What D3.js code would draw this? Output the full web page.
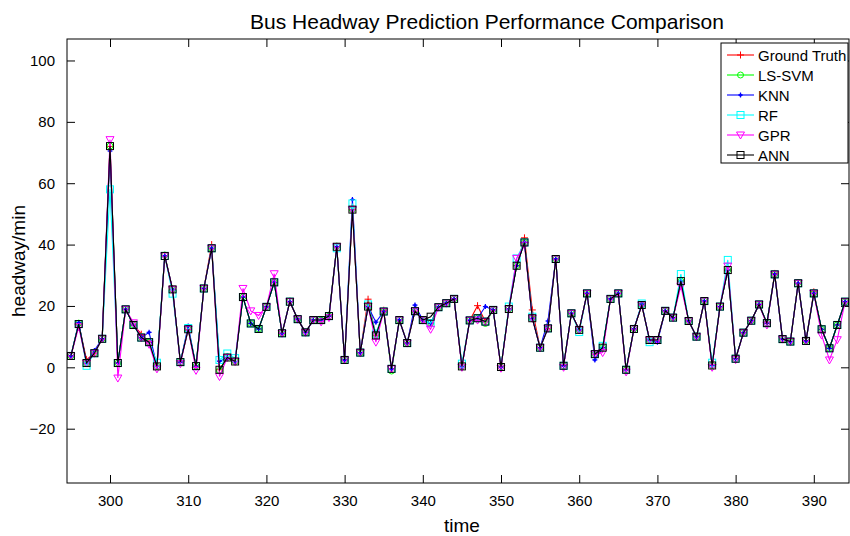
<!DOCTYPE html>
<html>
<head>
<meta charset="utf-8">
<script src="https://cdn.jsdelivr.net/npm/d3@7"></script>
<style>
  html, body { margin: 0; padding: 0; background: #fff; }
  svg { display: block; font-family: "Liberation Sans", Arial, sans-serif; }
</style>
</head>
<body>
<svg id="chart" width="850" height="536"></svg>
<script>
// Time steps (sample index) shown on the horizontal axis
const timeSteps = d3.range(295, 395);

// Observed headway (minutes)
const groundTruth = [
  3.7, 14.1, 2.5, 4.6, 9.3, 72.0, 1.4, 18.9, 13.8, 10.8,
  8.2, 0.3, 36.3, 25.4, 1.7, 12.4, 0.4, 25.7, 40.0, -0.8,
  3.2, 1.9, 22.9, 14.3, 12.5, 19.7, 27.7, 11.1, 21.4, 15.7,
  11.4, 15.4, 15.4, 16.7, 39.3, 2.4, 51.4, 4.8, 22.2, 10.4,
  18.6, -0.5, 15.4, 7.9, 18.3, 15.4, 14.4, 19.6, 20.9, 22.3,
  0.3, 15.3, 20.1, 14.9, 18.7, 0.1, 19.0, 33.1, 42.2, 18.7,
  6.4, 12.7, 35.3, 0.5, 17.6, 12.2, 24.1, 4.3, 6.4, 22.3,
  24.1, -0.8, 12.5, 20.3, 8.9, 8.9, 18.4, 16.2, 28.1, 15.1,
  10.0, 21.6, 0.6, 19.8, 31.7, 2.8, 11.3, 15.2, 20.5, 14.4,
  30.6, 9.2, 8.4, 27.4, 8.6, 24.6, 12.4, 6.2, 13.8, 21.4
];

// LS-SVM predictions
const lsSvm = [
  3.7, 14.4, 1.4, 4.6, 9.3, 72.1, 1.4, 18.9, 13.8, 9.9,
  8.2, 0.3, 36.6, 25.4, 1.7, 12.4, 0.4, 25.7, 38.8, -1.0,
  3.2, 1.9, 22.9, 14.3, 12.5, 19.7, 27.7, 11.1, 21.6, 15.7,
  11.4, 15.4, 15.4, 16.7, 39.5, 2.4, 51.4, 4.8, 19.8, 10.4,
  18.2, -1.2, 15.4, 7.9, 18.3, 15.4, 14.4, 19.6, 20.9, 22.3,
  0.3, 15.3, 16.0, 14.3, 18.7, 0.1, 19.0, 33.1, 40.7, 16.0,
  6.4, 12.7, 35.3, 0.5, 17.6, 12.2, 24.1, 4.3, 6.4, 22.3,
  24.1, -0.8, 12.5, 20.3, 8.9, 8.9, 18.4, 16.2, 28.1, 15.1,
  10.0, 21.6, 0.6, 19.8, 31.7, 2.8, 11.3, 15.2, 20.5, 14.4,
  30.3, 9.2, 8.4, 27.6, 8.6, 24.1, 12.4, 6.2, 13.8, 21.4
];

// KNN predictions
const knn = [
  3.7, 14.6, 1.4, 5.5, 9.3, 70.5, 1.4, 18.9, 13.8, 9.7,
  11.4, 0.3, 36.3, 25.4, 1.7, 13.5, 0.4, 25.7, 38.8, 2.0,
  3.2, 1.9, 22.9, 14.3, 12.5, 19.7, 27.7, 11.1, 21.4, 15.7,
  11.4, 15.4, 15.4, 16.7, 39.3, 2.4, 54.7, 4.8, 19.8, 14.7,
  18.2, -0.5, 15.4, 7.9, 20.3, 15.4, 14.4, 19.6, 20.9, 22.3,
  0.3, 15.3, 16.0, 19.8, 18.7, 0.1, 19.0, 33.1, 40.7, 16.0,
  6.4, 15.1, 35.3, 0.5, 17.6, 12.2, 24.1, 2.4, 6.4, 22.3,
  24.1, -0.8, 12.5, 20.6, 8.9, 8.2, 18.4, 16.2, 28.1, 15.1,
  10.0, 21.6, 0.6, 19.8, 31.7, 2.8, 11.3, 15.2, 20.5, 14.4,
  30.3, 9.2, 8.4, 27.4, 8.6, 24.1, 12.4, 6.2, 13.8, 21.4
];

// Random forest predictions
const randomForest = [
  3.7, 14.1, 0.5, 4.6, 9.3, 58.0, 1.4, 18.9, 13.8, 9.7,
  8.2, 1.5, 36.3, 24.0, 1.7, 12.8, 0.4, 25.7, 38.8, 2.4,
  4.5, 3.0, 22.9, 14.3, 12.5, 19.7, 27.7, 11.1, 21.4, 15.7,
  11.4, 15.4, 15.4, 16.7, 38.8, 2.4, 53.4, 4.8, 20.5, 11.0,
  18.2, -0.5, 15.4, 7.9, 18.3, 15.4, 14.4, 19.6, 20.9, 22.3,
  1.2, 15.3, 16.0, 14.9, 18.7, 0.1, 19.8, 35.5, 40.7, 16.5,
  6.4, 12.7, 35.3, 0.5, 17.6, 11.5, 24.1, 4.3, 7.0, 22.3,
  24.1, -0.8, 12.5, 20.8, 8.2, 8.9, 18.4, 16.2, 30.4, 15.1,
  10.0, 21.6, 1.5, 19.8, 35.0, 2.8, 11.3, 15.2, 20.5, 14.4,
  30.3, 9.2, 8.4, 27.4, 8.6, 24.1, 12.4, 6.2, 13.8, 21.4
];

// Gaussian process regression predictions
const gpr = [
  3.7, 13.2, 1.4, 4.6, 9.3, 74.2, -3.5, 18.9, 14.5, 9.7,
  7.5, -0.5, 36.3, 25.4, 1.2, 12.4, -1.0, 25.7, 38.8, -3.0,
  3.2, 1.9, 25.7, 18.4, 16.9, 19.7, 30.5, 11.1, 21.4, 15.7,
  11.4, 15.4, 14.8, 16.2, 39.3, 2.4, 51.4, 4.8, 19.8, 8.2,
  18.2, -0.5, 15.4, 7.9, 18.3, 15.4, 12.4, 19.6, 20.9, 22.3,
  0.0, 15.3, 15.4, 14.9, 18.7, -0.3, 19.0, 35.5, 39.8, 16.0,
  6.4, 12.7, 35.3, 0.0, 17.6, 12.2, 24.1, 4.3, 4.8, 22.3,
  24.1, -1.5, 12.5, 20.3, 8.9, 8.9, 18.4, 16.2, 26.5, 15.1,
  10.0, 21.6, 0.0, 19.8, 33.0, 2.5, 11.3, 15.2, 20.5, 13.8,
  30.3, 9.2, 8.4, 27.4, 8.6, 24.1, 10.5, 2.4, 9.0, 21.4
];

// ANN predictions
const ann = [
  3.7, 14.1, 1.4, 4.6, 9.3, 72.1, 1.4, 18.9, 13.8, 9.7,
  8.2, 0.3, 36.3, 25.4, 1.7, 12.4, 0.4, 25.7, 38.8, -0.8,
  3.2, 1.9, 22.9, 14.3, 12.5, 19.7, 27.7, 11.1, 21.4, 15.7,
  11.4, 15.4, 15.4, 16.7, 39.3, 2.4, 51.4, 4.8, 19.8, 10.4,
  18.2, -0.5, 15.4, 7.9, 18.3, 15.4, 16.5, 19.6, 20.9, 22.3,
  0.3, 15.3, 16.0, 14.9, 18.7, 0.1, 19.0, 33.1, 40.7, 16.0,
  6.4, 12.7, 35.3, 0.5, 17.6, 12.2, 24.1, 4.3, 6.4, 22.3,
  24.1, -0.8, 12.5, 20.3, 8.9, 8.9, 18.4, 16.2, 28.1, 15.1,
  10.0, 21.6, 0.6, 19.8, 31.7, 2.8, 11.3, 15.2, 20.5, 14.4,
  30.3, 9.2, 8.4, 27.4, 8.6, 24.1, 12.4, 6.2, 13.8, 21.4
];

const xTicks = [300, 310, 320, 330, 340, 350, 360, 370, 380, 390];
const yTicks = [-20, 0, 20, 40, 60, 80, 100];

const seriesNames = ["Ground Truth", "LS-SVM", "KNN", "RF", "GPR", "ANN"];
const seriesColors = ["#ff0000", "#00ff00", "#0000ff", "#00ffff", "#ff00ff", "#000000"];
const seriesMarkers = ["plus", "circle", "dot", "square", "triangleDown", "square"];
const seriesValues = [groundTruth, lsSvm, knn, randomForest, gpr, ann];

const svg = d3.select("#chart");
const margin = { left: 67, right: 1, top: 39, bottom: 53 };
const W = 850, H = 536;
const plotW = W - margin.left - margin.right;
const plotH = H - margin.top - margin.bottom;

const x = d3.scaleLinear().domain([294.5, 394.5]).range([margin.left, margin.left + plotW]);
const y = d3.scaleLinear().domain([-37.7, 107]).range([margin.top + plotH, margin.top]);

// clip region for the data
svg.append("defs").append("clipPath").attr("id", "plotClip")
  .append("rect").attr("x", margin.left).attr("y", margin.top)
  .attr("width", plotW).attr("height", plotH);

// marker painter
function drawMarker(g, kind, color, cx, cy) {
  const s = 3.5;
  if (kind === "plus") {
    g.append("path").attr("d", `M${cx - s},${cy}H${cx + s}M${cx},${cy - s}V${cy + s}`)
      .attr("stroke", color).attr("stroke-width", 1).attr("fill", "none");
  } else if (kind === "circle") {
    g.append("circle").attr("cx", cx).attr("cy", cy).attr("r", 3)
      .attr("stroke", color).attr("stroke-width", 1).attr("fill", "none");
  } else if (kind === "dot") {
    g.append("path").attr("d", `M${cx - 2.5},${cy}H${cx + 2.5}M${cx},${cy - 2.5}V${cy + 2.5}`)
      .attr("stroke", color).attr("stroke-width", 1.2).attr("fill", "none");
    g.append("circle").attr("cx", cx).attr("cy", cy).attr("r", 1.6).attr("fill", color);
  } else if (kind === "square") {
    g.append("rect").attr("x", cx - 3.5).attr("y", cy - 3.5).attr("width", 7).attr("height", 7)
      .attr("stroke", color).attr("stroke-width", 1).attr("fill", "none");
  } else if (kind === "triangleDown") {
    g.append("path").attr("d", `M${cx - 4},${cy - 3}L${cx + 4},${cy - 3}L${cx},${cy + 4}Z`)
      .attr("stroke", color).attr("stroke-width", 1).attr("fill", "none");
  }
}

// axes box and ticks
const xAxisBottom = d3.axisBottom(x).tickValues(xTicks).tickSizeInner(-8).tickSizeOuter(0).tickPadding(12);
const xAxisTop = d3.axisTop(x).tickValues(xTicks).tickSizeInner(-8).tickSizeOuter(0).tickFormat("");
const yAxisLeft = d3.axisLeft(y).tickValues(yTicks).tickSizeInner(-8).tickSizeOuter(0).tickPadding(12);
const yAxisRight = d3.axisRight(y).tickValues(yTicks).tickSizeInner(-8).tickSizeOuter(0).tickFormat("");

function styleAxis(g) {
  g.select(".domain").remove();
  g.selectAll(".tick line").attr("stroke", "#000").attr("stroke-width", 1);
  g.selectAll(".tick text").attr("fill", "#000").style("font-size", "15px")
    .style("font-family", "Liberation Sans, Arial, sans-serif");
}

svg.append("g").attr("transform", `translate(0,${margin.top + plotH})`).call(xAxisBottom).call(styleAxis);
svg.append("g").attr("transform", `translate(0,${margin.top})`).call(xAxisTop).call(styleAxis);
svg.append("g").attr("transform", `translate(${margin.left},0)`).call(yAxisLeft).call(styleAxis);
svg.append("g").attr("transform", `translate(${margin.left + plotW},0)`).call(yAxisRight).call(styleAxis);

// data series
const dataLayer = svg.append("g").attr("clip-path", "url(#plotClip)");
const line = d3.line().x(d => x(d[0])).y(d => y(d[1]));

seriesValues.forEach((vals, i) => {
  const pts = timeSteps.map((t, k) => [t, vals[k]]);
  const g = dataLayer.append("g");
  g.append("path").datum(pts).attr("d", line)
    .attr("fill", "none").attr("stroke", seriesColors[i]).attr("stroke-width", 1.1);
  pts.forEach(p => drawMarker(g, seriesMarkers[i], seriesColors[i], x(p[0]), y(p[1])));
});

// frame
svg.append("rect").attr("x", margin.left).attr("y", margin.top)
  .attr("width", plotW).attr("height", plotH)
  .attr("fill", "none").attr("stroke", "#000").attr("stroke-width", 1);

// title and axis labels
svg.append("text").attr("x", 487).attr("y", 29).attr("text-anchor", "middle")
  .style("font-size", "21px").text("Bus Headway Prediction Performance Comparison");
svg.append("text").attr("x", margin.left + plotW / 2 + 4).attr("y", 532).attr("text-anchor", "middle")
  .style("font-size", "19px").text("time");
svg.append("text").attr("transform", `translate(25,${margin.top + plotH / 2}) rotate(-90)`)
  .attr("text-anchor", "middle").style("font-size", "19px").text("headway/min");

// legend
const lg = svg.append("g");
const lgX = 721, lgY = 43, lgW = 127, lgH = 120;
lg.append("rect").attr("x", lgX).attr("y", lgY).attr("width", lgW).attr("height", lgH)
  .attr("fill", "#fff").attr("stroke", "#000").attr("stroke-width", 1);
seriesNames.forEach((name, i) => {
  const cy = lgY + 12 + i * 20;
  lg.append("line").attr("x1", lgX + 6).attr("x2", lgX + 33).attr("y1", cy).attr("y2", cy)
    .attr("stroke", seriesColors[i]).attr("stroke-width", 1.1);
  drawMarker(lg, seriesMarkers[i], seriesColors[i], lgX + 19.5, cy);
  lg.append("text").attr("x", lgX + 37).attr("y", cy + 5.5).style("font-size", "15px").text(name);
});
</script>
</body>
</html>
